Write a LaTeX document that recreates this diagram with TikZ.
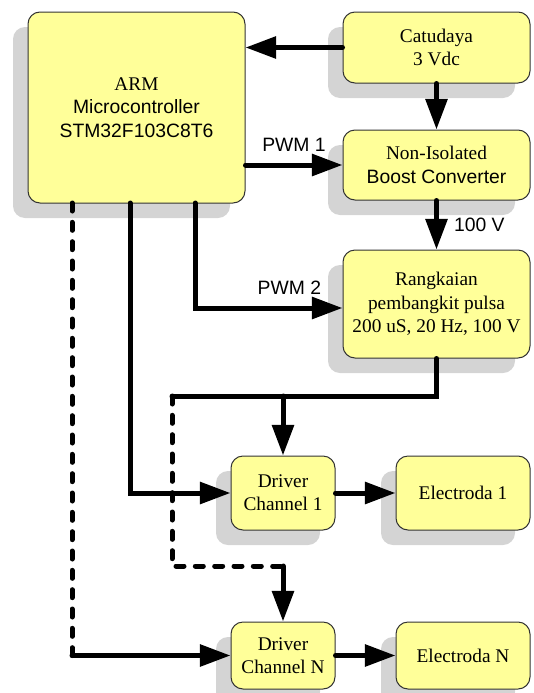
\documentclass[tikz,border=0pt]{standalone}
\usepackage{fontspec}
\setmainfont{Liberation Serif}
\setsansfont{Liberation Sans}
\usetikzlibrary{arrows.meta,shadows}
\definecolor{kuning}{RGB}{255,255,153}

\begin{document}
\begin{tikzpicture}[x=0.75pt, y=-0.75pt, >={Triangle[length=23pt,width=16pt]},
        blok/.style={draw=black!80, line width=0.75pt, fill=kuning, rounded corners=9pt,
            align=center, inner sep=0pt, font=\fontsize{14.5}{17.5}\selectfont,
            drop shadow={shadow xshift=-11.25pt, shadow yshift=-11.25pt, fill=black!17, opacity=1}},
        jalur/.style={line width=3.75pt, line cap=round},
        putus/.style={jalur, dash pattern=on 6pt off 8.5pt},
        teks/.style={font=\sffamily\fontsize{14.5}{17.5}\selectfont}]

    \useasboundingbox (0,0) rectangle (533,693);

    % blok
    \node[blok, minimum width=162.75pt, minimum height=143.25pt] (mcu) at (136.5,107.5)
        {ARM\\\textsf{Microcontroller}\\\textsf{STM32F103C8T6}};
    \node[blok, minimum width=140.25pt, minimum height=53.25pt] (catu) at (436.5,47.5)
        {Catudaya\\3 Vdc};
    \node[blok, minimum width=140.25pt, minimum height=52.5pt] (boost) at (436.5,165)
        {Non-Isolated\\\textsf{Boost Converter}};
    \node[blok, minimum width=140.25pt, minimum height=81pt] (rang) at (436.5,304)
        {Rangkaian\\pembangkit pulsa\\200 uS, 20 Hz, 100 V};
    \node[blok, minimum width=78pt, minimum height=55.5pt] (drv1) at (283,493)
        {Driver\\Channel 1};
    \node[blok, minimum width=100.5pt, minimum height=55.5pt] (el1) at (463,493)
        {Electroda 1};
    \node[blok, minimum width=78pt, minimum height=50.25pt] (drvN) at (283,655.5)
        {Driver\\Channel N};
    \node[blok, minimum width=100.5pt, minimum height=50.25pt] (elN) at (463,655.5)
        {Electroda N};

    % titik bantu
    \coordinate (o1) at (72,203);
    \coordinate (o2) at (130,203);
    \coordinate (o3) at (195,203);
    \coordinate (busL) at (172,396);
    \coordinate (busN) at (172,566);

    % catu daya dan boost
    \draw[jalur, ->] (catu.west) -- (catu.west -| mcu.east);
    \draw[jalur, ->] (catu.south) -- (boost.north);
    \draw[jalur, ->] (mcu.east |- boost.west) -- node[teks, midway, above=5pt] {PWM 1} (boost.west);
    \draw[jalur, ->] (boost.south) -- node[teks, midway, right=8pt] {100 V} (rang.north);
    \draw[jalur, ->] (o3) |- node[teks, pos=0.82, above=5pt] {PWM 2} ([yshift=-3pt]rang.west);

    % driver
    \draw[jalur, ->] (o2) |- (drv1.west);
    \draw[putus] (o1) -- (o1 |- drvN.west);
    \draw[jalur, ->] (o1 |- drvN.west) -- (drvN.west);
    \draw[jalur] (rang.south) |- (busL);
    \draw[jalur, ->] (drv1.north |- busL) -- (drv1.north);
    \draw[putus] (busL) -- (busN) -- (busN -| drvN.north);
    \draw[jalur, ->] (busN -| drvN.north) -- (drvN.north);

    % elektroda
    \draw[jalur, ->] (drv1) -- (el1);
    \draw[jalur, ->] (drvN) -- (elN);

\end{tikzpicture}
\end{document}
